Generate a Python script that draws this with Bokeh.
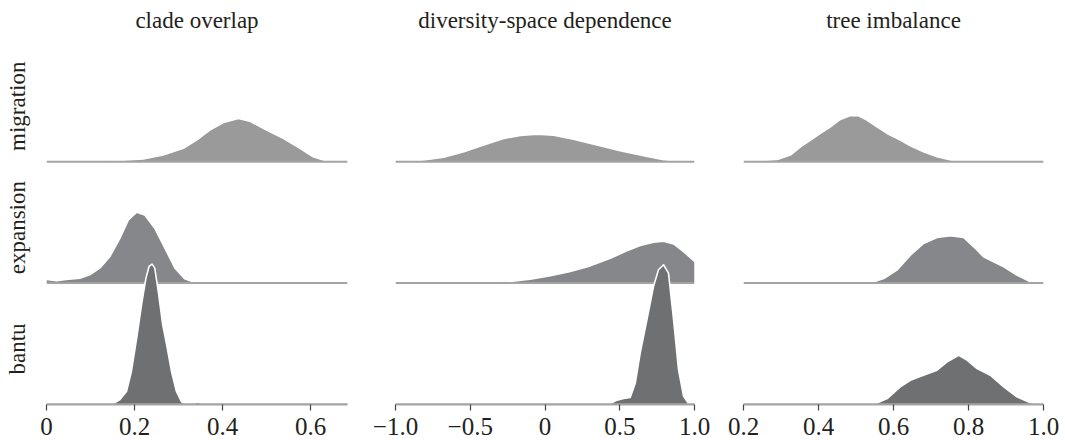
from bokeh.plotting import figure
from bokeh.layouts import row
from bokeh.models import FixedTicker, Range1d
from bokeh.core.properties import value
from bokeh.embed import file_html
from bokeh.resources import INLINE

# ---------------- data ----------------
rows = ["migration", "expansion", "bantu"]
titles = ["clade overlap", "diversity-space dependence", "tree imbalance"]

clade_ticks = [0, 0.2, 0.4, 0.6]
clade_tick_labels = ["0", "0.2", "0.4", "0.6"]
div_ticks = [-1.0, -0.5, 0, 0.5, 1.0]
div_tick_labels = ["\u22121.0", "\u22120.5", "0", "0.5", "1.0"]
tree_ticks = [0.2, 0.4, 0.6, 0.8, 1.0]
tree_tick_labels = ["0.2", "0.4", "0.6", "0.8", "1.0"]

# densities (height in units of one row)
clade_migration_x = [0.0, 0.136, 0.22, 0.265, 0.311, 0.341, 0.371, 0.402, 0.436, 0.462, 0.5, 0.538, 0.576, 0.606, 0.629, 0.652, 0.684]
clade_migration_d = [0.0, 0.005, 0.022, 0.055, 0.110, 0.178, 0.260, 0.323, 0.356, 0.334, 0.260, 0.192, 0.110, 0.041, 0.014, 0.003, 0.0]
clade_expansion_x = [0.0, 0.023, 0.045, 0.076, 0.098, 0.121, 0.144, 0.167, 0.186, 0.205, 0.223, 0.246, 0.269, 0.292, 0.314, 0.337, 0.364, 0.684]
clade_expansion_d = [0.030, 0.019, 0.030, 0.041, 0.068, 0.123, 0.219, 0.370, 0.520, 0.584, 0.562, 0.452, 0.288, 0.123, 0.036, 0.005, 0.0, 0.0]
clade_bantu_x = [0.148, 0.167, 0.182, 0.193, 0.205, 0.216, 0.226, 0.233, 0.24, 0.246, 0.254, 0.264, 0.273, 0.284, 0.295, 0.307, 0.318, 0.333, 0.345, 0.356, 0.364]
clade_bantu_d = [0.0, 0.041, 0.110, 0.274, 0.548, 0.822, 1.041, 1.137, 1.156, 1.123, 0.932, 0.658, 0.493, 0.274, 0.110, 0.022, 0.0, 0.008, 0.019, 0.003, 0.0]

div_migration_x = [-1.0, -0.81, -0.677, -0.543, -0.41, -0.276, -0.165, -0.053, 0.058, 0.19, 0.347, 0.503, 0.66, 0.793, 0.904, 1.0]
div_migration_d = [0.003, 0.014, 0.036, 0.082, 0.137, 0.192, 0.216, 0.227, 0.219, 0.186, 0.137, 0.090, 0.049, 0.016, 0.005, 0.0]
div_expansion_x = [-1.0, -0.477, -0.254, -0.098, 0.036, 0.169, 0.303, 0.437, 0.548, 0.637, 0.726, 0.793, 0.86, 0.927, 1.0]
div_expansion_d = [0.0, 0.003, 0.011, 0.033, 0.060, 0.096, 0.142, 0.205, 0.266, 0.310, 0.337, 0.345, 0.323, 0.260, 0.178]
div_bantu_x = [0.425, 0.481, 0.526, 0.57, 0.604, 0.637, 0.682, 0.726, 0.759, 0.793, 0.826, 0.86, 0.893, 0.927, 0.96, 1.0]
div_bantu_d = [0.0, 0.036, 0.049, 0.058, 0.178, 0.425, 0.699, 0.973, 1.110, 1.151, 1.082, 0.699, 0.288, 0.068, 0.008, 0.0]

tree_migration_x = [0.2, 0.29, 0.325, 0.352, 0.379, 0.405, 0.432, 0.458, 0.485, 0.507, 0.529, 0.556, 0.583, 0.618, 0.645, 0.68, 0.716, 0.752, 0.778, 1.0]
tree_migration_d = [0.0, 0.019, 0.055, 0.123, 0.178, 0.233, 0.288, 0.348, 0.381, 0.379, 0.343, 0.288, 0.233, 0.178, 0.132, 0.082, 0.041, 0.014, 0.003, 0.0]
tree_expansion_x = [0.538, 0.574, 0.609, 0.645, 0.68, 0.716, 0.752, 0.787, 0.814, 0.84, 0.867, 0.894, 0.929, 0.965, 1.0]
tree_expansion_d = [0.0, 0.038, 0.107, 0.230, 0.327, 0.376, 0.390, 0.376, 0.299, 0.217, 0.176, 0.134, 0.066, 0.011, 0.0]
tree_bantu_x = [0.547, 0.583, 0.618, 0.645, 0.68, 0.716, 0.743, 0.774, 0.796, 0.823, 0.858, 0.894, 0.929, 0.965, 1.0]
tree_bantu_d = [0.0, 0.049, 0.145, 0.200, 0.241, 0.283, 0.351, 0.406, 0.365, 0.296, 0.241, 0.145, 0.063, 0.014, 0.0]

# ---------------- styling / layout ----------------
FONT = "Liberation Serif"
TEXT_COLOR = "#231f20"
FILLS = {"migration": "#9a9a9b", "expansion": "#86878a", "bantu": "#6f7072"}
BASE_COLOR = "#a3a3a3"

HEIGHT = 440
BORDER_BOTTOM = 36
ROW_PX = 121.4          # pixel height of one row
TITLE_BASELINE_PX = 20  # distance of title baseline from top of page

panels = [
    dict(title=titles[0], xr=(0.0, 0.684), ticks=clade_ticks, labels=clade_tick_labels,
         series={"migration": (clade_migration_x, clade_migration_d),
                 "expansion": (clade_expansion_x, clade_expansion_d),
                 "bantu": (clade_bantu_x, clade_bantu_d)},
         width=370, bl=46, br=23, yaxis=True),
    dict(title=titles[1], xr=(-1.0, 1.0), ticks=div_ticks, labels=div_tick_labels,
         series={"migration": (div_migration_x, div_migration_d),
                 "expansion": (div_expansion_x, div_expansion_d),
                 "bantu": (div_bantu_x, div_bantu_d)},
         width=349, bl=25, br=25, yaxis=False),
    dict(title=titles[2], xr=(0.2, 1.0), ticks=tree_ticks, labels=tree_tick_labels,
         series={"migration": (tree_migration_x, tree_migration_d),
                 "expansion": (tree_expansion_x, tree_expansion_d),
                 "bantu": (tree_bantu_x, tree_bantu_d)},
         width=346, bl=24, br=22, yaxis=False),
]

n_rows = len(rows)
frame_px = HEIGHT - BORDER_BOTTOM
y_top = frame_px / ROW_PX
title_y = y_top - TITLE_BASELINE_PX / ROW_PX

figs = []
for pan in panels:
    p = figure(width=pan["width"], height=HEIGHT, output_backend="svg", toolbar_location=None,
               x_range=Range1d(*pan["xr"]), y_range=Range1d(0, y_top),
               min_border_left=pan["bl"], min_border_right=pan["br"],
               min_border_top=0, min_border_bottom=BORDER_BOTTOM,
               y_axis_location="left" if pan["yaxis"] else None)
    p.outline_line_color = None
    p.background_fill_color = "white"
    p.border_fill_color = "white"
    p.grid.visible = False

    for i, name in enumerate(rows):
        base = n_rows - 1 - i
        xs, ds = pan["series"][name]
        top = [base + d for d in ds]
        p.varea(x=xs, y1=[base] * len(xs), y2=top, fill_color=FILLS[name])
        p.line(x=xs, y=top, line_color="white", line_width=1.6, line_join="round")
        p.segment(x0=[pan["xr"][0]], x1=[pan["xr"][1]], y0=[base], y1=[base],
                  line_color=BASE_COLOR, line_width=2)

    # panel title
    p.text(x=[(pan["xr"][0] + pan["xr"][1]) / 2], y=[title_y], text=[pan["title"]],
           text_align="center", text_baseline="alphabetic",
           text_font=value(FONT), text_font_size="23px", text_color=TEXT_COLOR)

    ax = p.xaxis[0]
    ax.ticker = FixedTicker(ticks=pan["ticks"])
    ax.major_label_overrides = {t: l for t, l in zip(pan["ticks"], pan["labels"])}
    ax.axis_line_color = BASE_COLOR
    ax.axis_line_width = 2
    ax.major_tick_line_color = "#444444"
    ax.major_tick_line_width = 1.2
    ax.major_tick_in = 0
    ax.major_tick_out = 6
    ax.minor_tick_line_color = None
    ax.major_label_text_font = FONT
    ax.major_label_text_font_size = "25px"
    ax.major_label_text_color = TEXT_COLOR
    ax.major_label_standoff = 7

    if pan["yaxis"]:
        ay = p.yaxis[0]
        pos = [n_rows - 1 - i + 0.457 for i in range(n_rows)]
        ay.ticker = FixedTicker(ticks=pos)
        ay.major_label_overrides = {t: l for t, l in zip(pos, rows)}
        ay.major_label_orientation = "vertical"
        ay.axis_line_color = None
        ay.major_tick_line_color = None
        ay.minor_tick_line_color = None
        ay.major_label_text_font = FONT
        ay.major_label_text_font_size = "23px"
        ay.major_label_text_color = TEXT_COLOR
        ay.major_label_standoff = 10
    figs.append(p)

layout = row(*figs)
open("out.html", "w").write(file_html(layout, INLINE))
